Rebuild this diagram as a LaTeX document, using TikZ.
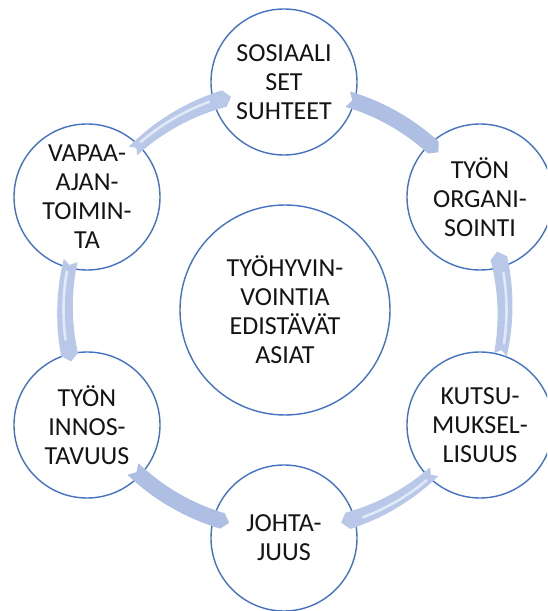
\documentclass[tikz,border=0pt]{standalone}
\usepackage{fontspec}
\setmainfont{Carlito}
\definecolor{ring}{HTML}{4472C4}
\definecolor{bandsolid}{HTML}{AEBFE3}
\definecolor{bandlight}{HTML}{B9C7E9}
\definecolor{bandshine}{HTML}{E6ECF8}
\newcommand{\myband}[5]{%
 \pgfmathsetmacro{\bs}{sign(#2-(#1))}%
 \pgfmathsetmacro{\tipang}{#2+\bs*1.8}%
 \pgfmathsetmacro{\tailang}{#1+\bs*1.2}%
 \fill[#5] plot[domain=#1:#2,samples=40] (\x:{220+#3+(#4-#3)*(\x-(#1))/((#2)-(#1))})
   -- (\tipang:220)
   -- plot[domain=#2:#1,samples=40] (\x:{220-#3-(#4-#3)*(\x-(#1))/((#2)-(#1))})
   -- (\tailang:220) -- cycle;
}
\newcommand{\myshine}[2]{%
 \pgfmathsetmacro{\bs}{sign(#2-(#1))}%
 \pgfmathsetmacro{\ha}{#1+\bs*3}%
 \pgfmathsetmacro{\hb}{#2-\bs*4}%
 \draw[bandshine, line width=2.6pt, opacity=0.9, line cap=round] (\ha:221.5) arc[start angle=\ha, end angle=\hb, radius=221.5];
}
\begin{document}
\begin{tikzpicture}[x=1pt,y=1pt,
  circ/.style={circle, draw=ring, line width=1.4pt, fill=white, minimum size=146pt,
    inner sep=0pt, align=center, font=\fontsize{26}{29}\selectfont, text=black!92}]
\useasboundingbox (0,0) rectangle (547,611);
\clip (0,0) rectangle (547,611);
\fill[white] (0,0) rectangle (547,611);
\coordinate (C) at (285,301);
\node[circ, minimum size=210pt] (M) at (C) {TYÖHYVIN-\\VOINTIA\\EDISTÄVÄT\\ASIAT};
\node[circ] (S) at (284,529) {SOSIAALI\\SET\\SUHTEET};
\node[circ] (O) at (480,414) {TYÖN\\ORGANI-\\SOINTI};
\node[circ] (K) at (480,186) {KUTSU-\\MUKSEL-\\LISUUS};
\node[circ] (J) at (284,73) {JOHTA-\\JUUS};
\node[circ] (I) at (87,186) {TYÖN\\INNOS-\\TAVUUS};
\node[circ] (V) at (87,414) {VAPAA-\\AJAN-\\TOIMIN-\\TA};
\begin{scope}[shift={(C)}]
 % solid bands
 \myband{73.4}{47.6}{8}{8}{bandsolid}
 \myband{-133.7}{-106.5}{8}{8}{bandsolid}
 % light bands
 \myband{133.7}{106}{6}{8.5}{bandlight}
 \myshine{133.7}{106}
 \myband{167}{191.7}{7}{8.5}{bandlight}
 \myshine{167}{191.7}
 \myband{-11.7}{13.6}{6.5}{8.5}{bandlight}
 \myshine{-11.7}{13.6}
 \myband{-47.3}{-73.4}{6}{8.5}{bandlight}
 \myshine{-47.3}{-73.4}
\end{scope}
\end{tikzpicture}
\end{document}
